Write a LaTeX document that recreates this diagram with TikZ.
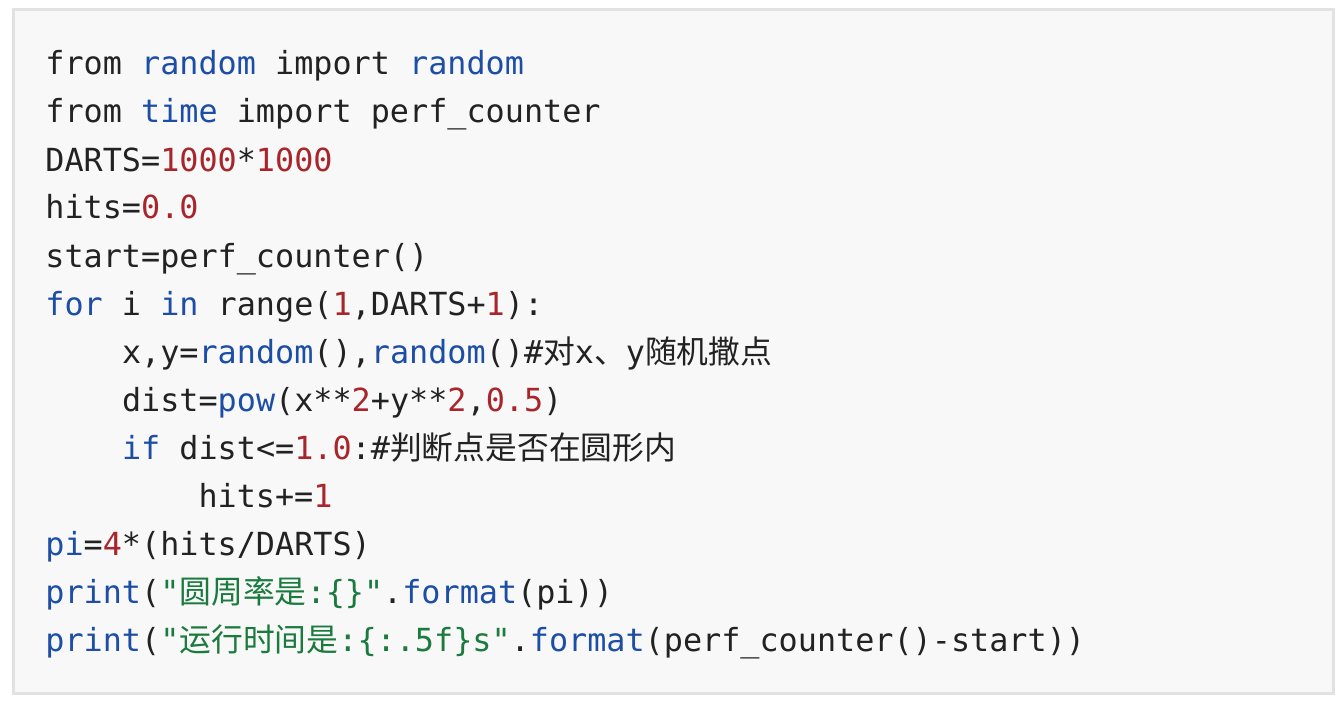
\documentclass[tikz,border=0pt]{standalone}
\usepackage{fontspec}
\setmonofont{DejaVu Sans Mono}
\newfontfamily\cjk{Noto Sans CJK SC}
\definecolor{kwc}{HTML}{1D4EA6}
\definecolor{nmc}{HTML}{A8262B}
\definecolor{stc}{HTML}{1B7A3E}
\definecolor{bgc}{HTML}{F8F8F8}
\definecolor{bdc}{HTML}{E2E2E2}
\definecolor{txc}{HTML}{222222}
\newcommand{\kw}[1]{\textcolor{kwc}{#1}}
\newcommand{\nm}[1]{\textcolor{nmc}{#1}}
\newcommand{\st}[1]{\textcolor{stc}{#1}}
\begin{document}
\begin{tikzpicture}[x=0.5pt,y=-0.5pt,
  code/.style={anchor=base west,inner sep=0pt,font=\ttfamily\fontsize{15.9pt}{18pt}\selectfont,text=txc}]
\useasboundingbox (0,0) rectangle (1344,706);
\node[draw=bdc,line width=1.5pt,fill=bgc,minimum width=660pt,minimum height=342pt,inner sep=0pt,anchor=north west] (box) at (12,8) {};
\def\ind{76.56}
\node[code] (l0) at (45,75) {from \kw{random} import \kw{random}};
\node[code] (l1) at (45,123) {from \kw{time} import perf\_counter};
\node[code] (l2) at (45,171) {DARTS=\nm{1000}*\nm{1000}};
\node[code] (l3) at (45,219) {hits=\nm{0.0}};
\node[code] (l4) at (45,267) {start=perf\_counter()};
\node[code] (l5) at (45,315) {\kw{for} i \kw{in} range(\nm{1},DARTS+\nm{1}):};
\node[code] (l6) at (121.6,363) {x,y=\kw{random}(),\kw{random}()\#{\cjk 对}x{\cjk 、}y{\cjk 随机撒点}};
\node[code] (l7) at (121.6,411) {dist=\kw{pow}(x**\nm{2}+y**\nm{2},\nm{0.5})};
\node[code] (l8) at (121.6,459) {\kw{if} dist<=\nm{1.0}:\#{\cjk 判断点是否在圆形内}};
\node[code] (l9) at (198.1,507) {hits+=\nm{1}};
\node[code] (l10) at (45,555) {\kw{pi}=\nm{4}*(hits/DARTS)};
\node[code] (l11) at (45,603) {\kw{print}(\st{"{\cjk 圆周率是}:\{\}"}.\kw{format}(pi))};
\node[code] (l12) at (45,651) {\kw{print}(\st{"{\cjk 运行时间是}:\{:.5f\}s"}.\kw{format}(perf\_counter()-start))};
\end{tikzpicture}
\end{document}
